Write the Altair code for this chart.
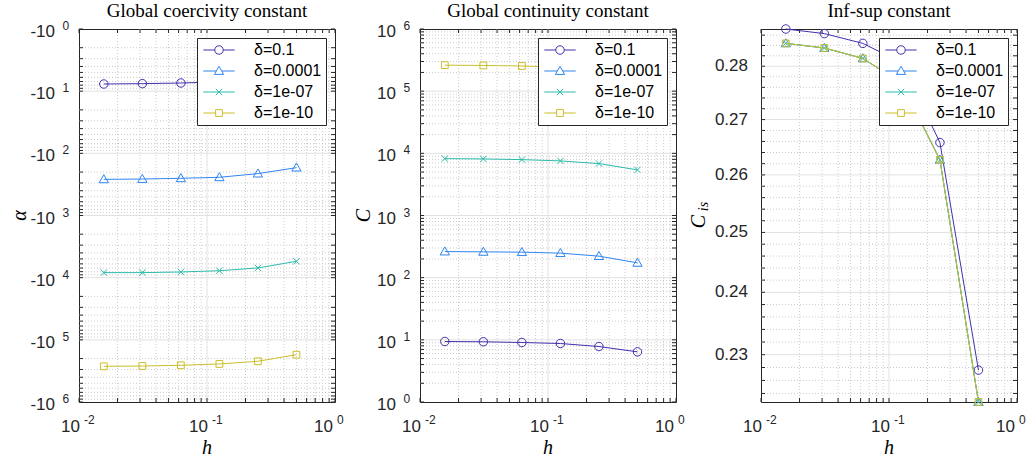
import altair as alt
import pandas as pd

# ---------------- data ----------------
h = [0.015625, 0.03125, 0.0625, 0.125, 0.25, 0.5]
series = ["δ=0.1", "δ=0.0001", "δ=1e-07", "δ=1e-10"]
colors = ["#4030ad", "#2f86f1", "#2cbbab", "#cbbf2b"]

# magnitude of the (negative) coercivity constant alpha
alpha_d1 = [7.67, 7.57, 7.39, 7.10, 6.50, 5.30]
alpha_d4 = [262, 259, 252, 243, 212, 170]
alpha_d7 = [8300, 8300, 8100, 7730, 6980, 5450]
alpha_d10 = [266700, 263600, 256500, 244300, 221300, 173400]

C_d1 = [9.40, 9.30, 9.06, 8.73, 7.80, 6.41]
C_d4 = [263, 260, 257, 248, 222, 173]
C_d7 = [8220, 8130, 7920, 7550, 6840, 5410]
C_d10 = [262000, 259000, 254000, 243000, 220000, 172000]

Cis_d1 = [0.2872, 0.2863, 0.2844, 0.2807, 0.2658, 0.2276]
Cis_d4 = [0.2844, 0.2835, 0.2815, 0.2768, 0.2627, 0.2227]
Cis_d7 = [0.2844, 0.2835, 0.2815, 0.2768, 0.2627, 0.2227]
Cis_d10 = [0.2844, 0.2835, 0.2815, 0.2768, 0.2627, 0.2227]

titles = ["Global coercivity constant", "Global continuity constant", "Inf-sup constant"]

# ticks
x_major = [0.01, 0.1, 1.0]
x_major_exp = ["-2", "-1", "0"]
x_minor = [0.02, 0.03, 0.04, 0.05, 0.06, 0.07, 0.08, 0.09,
           0.2, 0.3, 0.4, 0.5, 0.6, 0.7, 0.8, 0.9]
log_major = [1, 10, 100, 1e3, 1e4, 1e5, 1e6]
log_major_exp = ["0", "1", "2", "3", "4", "5", "6"]
log_minor = [k * 10 ** e for e in range(6) for k in range(2, 10)]
cis_major = [0.23, 0.24, 0.25, 0.26, 0.27, 0.28]
cis_minor = [0.224, 0.226, 0.228, 0.232, 0.234, 0.236, 0.238, 0.242, 0.244,
             0.246, 0.248, 0.252, 0.254, 0.256, 0.258, 0.262, 0.264, 0.266,
             0.268, 0.272, 0.274, 0.276, 0.278, 0.282, 0.284, 0.286]

# ---------------- style ----------------
W, H = 256, 373
SANS = "Liberation Sans"
SERIF = "Liberation Serif"
TXT = "#262626"
GRID_MAJ = "#e1e1e1"
GRID_MIN = "#cccccc"
TICK = 4

marker_paths = [
    "M1,0A1,1 0 1,1 -1,0A1,1 0 1,1 1,0Z",
    "M0,-1.1L1.1,0.8L-1.1,0.8Z",
    "M-0.75,-0.75L0.75,0.75M-0.75,0.75L0.75,-0.75",
    "M-0.8,-0.8H0.8V0.8H-0.8Z",
]
legend_paths = [
    "M-3.7,0H-1M1,0H3.7" + marker_paths[0],
    "M-3.7,0H-0.64M0.64,0H3.7" + marker_paths[1],
    "M-3.7,0H3.7" + marker_paths[2],
    "M-3.7,0H-0.8M0.8,0H3.7" + marker_paths[3],
]
MSIZE = 72

one = pd.DataFrame({"t": [0]})


def long_df(vals):
    rows = []
    for s, v in zip(series, vals):
        for hh, yy in zip(h, v):
            rows.append({"h": hh, "val": yy, "series": s})
    return pd.DataFrame(rows)


def txt(text, x, y, size=20, font=SERIF, style="italic", angle=0, align="center",
        baseline="middle", color="black"):
    kw = dict(text=text, font=font, fontSize=size, align=align, baseline=baseline,
              color=color, fontStyle=style)
    if angle:
        kw["angle"] = angle
    return alt.Chart(one).mark_text(**kw).encode(x=alt.value(x), y=alt.value(y))


def panel(df, ys, ydom, y_major, y_minor, label_layers, title, ytitle_layers):
    xs = alt.Scale(type="log", domain=[0.01, 1], nice=False)

    def X(f):
        return alt.X(f, type="quantitative", scale=xs, axis=None)

    def Y(f):
        return alt.Y(f, type="quantitative", scale=ys, axis=None)

    xin = [v for v in x_major if 0.01 < v < 1]
    yin = [v for v in y_major if ydom[0] < v < ydom[1]]
    xmin = pd.DataFrame({"v": x_minor})
    xmaj = pd.DataFrame({"v": xin})
    ymin = pd.DataFrame({"v": y_minor})
    ymaj = pd.DataFrame({"v": yin})
    xall = pd.DataFrame({"v": x_major + x_minor})
    yall = pd.DataFrame({"v": y_major + y_minor})

    layers = [
        alt.Chart(xmin).mark_rule(color=GRID_MIN, strokeDash=[1, 2], strokeWidth=1).encode(
            x=X("v"), y=alt.value(0), y2=alt.value(H)),
        alt.Chart(ymin).mark_rule(color=GRID_MIN, strokeDash=[1, 2], strokeWidth=1).encode(
            y=Y("v"), x=alt.value(0), x2=alt.value(W)),
        alt.Chart(xmaj).mark_rule(color=GRID_MAJ, strokeWidth=1).encode(
            x=X("v"), y=alt.value(0), y2=alt.value(H)),
        alt.Chart(ymaj).mark_rule(color=GRID_MAJ, strokeWidth=1).encode(
            y=Y("v"), x=alt.value(0), x2=alt.value(W)),
        # inward ticks on all four sides
        alt.Chart(xall).mark_rule(color=TXT, strokeWidth=1).encode(
            x=X("v"), y=alt.value(H), y2=alt.value(H - TICK)),
        alt.Chart(xall).mark_rule(color=TXT, strokeWidth=1).encode(
            x=X("v"), y=alt.value(0), y2=alt.value(TICK)),
        alt.Chart(yall).mark_rule(color=TXT, strokeWidth=1).encode(
            y=Y("v"), x=alt.value(0), x2=alt.value(TICK)),
        alt.Chart(yall).mark_rule(color=TXT, strokeWidth=1).encode(
            y=Y("v"), x=alt.value(W), x2=alt.value(W - TICK)),
    ]
    # series: line then markers, one series after another
    for i, s in enumerate(series):
        sub = df[df.series == s]
        layers.append(alt.Chart(sub).mark_line(strokeWidth=1, color=colors[i]).encode(
            x=X("h"), y=Y("val")))
        layers.append(alt.Chart(sub).mark_point(shape=marker_paths[i], size=MSIZE, filled=False,
                                                 strokeWidth=1, opacity=1, color=colors[i]).encode(
            x=X("h"), y=Y("val")))
    # legend-only layer
    leg = dict(title=None, orient="top-right", offset=9, padding=4,
               strokeColor=TXT, fillColor="white", cornerRadius=0,
               labelFont=SANS, labelFontSize=16, labelColor="black",
               symbolSize=MSIZE, symbolStrokeWidth=1, symbolOpacity=1,
               symbolOffset=10, labelOffset=27, rowPadding=5,
               labelExpr="datum.label + '\u00a0\u00a0\u00a0'")
    layers.append(alt.Chart(df).mark_point(opacity=0, size=MSIZE, filled=False).encode(
        x=X("h"), y=Y("val"),
        color=alt.Color("series:N", scale=alt.Scale(domain=series, range=colors),
                        sort=series, legend=alt.Legend(**leg)),
        shape=alt.Shape("series:N", scale=alt.Scale(domain=series, range=legend_paths),
                        sort=series, legend=alt.Legend(**leg))))

    # x tick labels: "10" + superscript exponent
    xl = pd.DataFrame({"v": x_major, "m": ["10"] * len(x_major), "e": x_major_exp})
    xl2 = xl[xl.e.str.len() == 2]
    xl1 = xl[xl.e.str.len() == 1]
    for d, dxm, dxe in [(xl2, 1, 5), (xl1, -2, 2)]:
        layers.append(alt.Chart(d).mark_text(align="right", baseline="alphabetic", dx=dxm,
                                             font=SANS, fontSize=17, color=TXT).encode(
            x=X("v"), y=alt.value(H + 30), text="m:N"))
        layers.append(alt.Chart(d).mark_text(align="left", baseline="alphabetic", dx=dxe,
                                             font=SANS, fontSize=12, color=TXT).encode(
            x=X("v"), y=alt.value(H + 22), text="e:N"))
    layers += [lf(Y) for lf in label_layers]
    # titles
    layers.append(txt(title, W / 2, -12.5, size=19, style="normal", baseline="alphabetic"))
    layers.append(txt("h", W / 2, H + 52, size=20, baseline="alphabetic"))
    layers += ytitle_layers

    return alt.layer(*layers).properties(width=W, height=H)


def exp_labels(mant, vals, exps):
    d = pd.DataFrame({"v": vals, "m": [mant] * len(vals), "e": exps})

    def a(Y):
        return alt.Chart(d).mark_text(align="right", baseline="alphabetic", dy=8,
                                      font=SANS, fontSize=17, color=TXT).encode(
            y=Y("v"), x=alt.value(-24), text="m:N")

    def b(Y):
        return alt.Chart(d).mark_text(align="left", baseline="alphabetic", dy=1,
                                      font=SANS, fontSize=12, color=TXT).encode(
            y=Y("v"), x=alt.value(-16.5), text="e:N")
    return [a, b]


def dec_labels(vals):
    d = pd.DataFrame({"v": vals})

    def a(Y):
        return alt.Chart(d).mark_text(align="right", baseline="middle",
                                      font=SANS, fontSize=17, color=TXT).encode(
            y=Y("v"), x=alt.value(-13), text=alt.Text("v:Q", format=".2f"))
    return [a]


df_a = long_df([alpha_d1, alpha_d4, alpha_d7, alpha_d10])
df_c = long_df([C_d1, C_d4, C_d7, C_d10])
df_i = long_df([Cis_d1, Cis_d4, Cis_d7, Cis_d10])

dom_log = [1, 1e6]
dom_i = [min(Cis_d4), max(Cis_d1)]
ys_a = alt.Scale(type="log", domain=dom_log, nice=False, reverse=True)
ys_c = alt.Scale(type="log", domain=dom_log, nice=False)
ys_i = alt.Scale(type="log", domain=dom_i, nice=False, zero=False)

p1 = panel(df_a, ys_a, dom_log, log_major, log_minor,
           exp_labels("-10", log_major, log_major_exp), titles[0],
           [txt("α", -59, H / 2, angle=270)])
p2 = panel(df_c, ys_c, dom_log, log_major, log_minor,
           exp_labels("10", log_major, log_major_exp), titles[1],
           [txt("C", -56, H / 2, angle=270)])
p3 = panel(df_i, ys_i, dom_i, cis_major, cis_minor, dec_labels(cis_major), titles[2],
           [txt("C", -62, H / 2 + 6, angle=270),
            txt("is", -57, H / 2 - 9, size=14, angle=270)])

chart = alt.hconcat(p1, p2, p3, spacing=85, bounds="flush").resolve_scale(
    color="independent", shape="independent"
).resolve_legend(
    color="independent", shape="independent"
).properties(
    padding={"left": 9, "top": 1, "right": 0, "bottom": 0},
    background="white",
).configure_view(stroke=TXT, strokeWidth=1)

chart.save("out.html", embed_options={"renderer": "svg", "actions": False})
